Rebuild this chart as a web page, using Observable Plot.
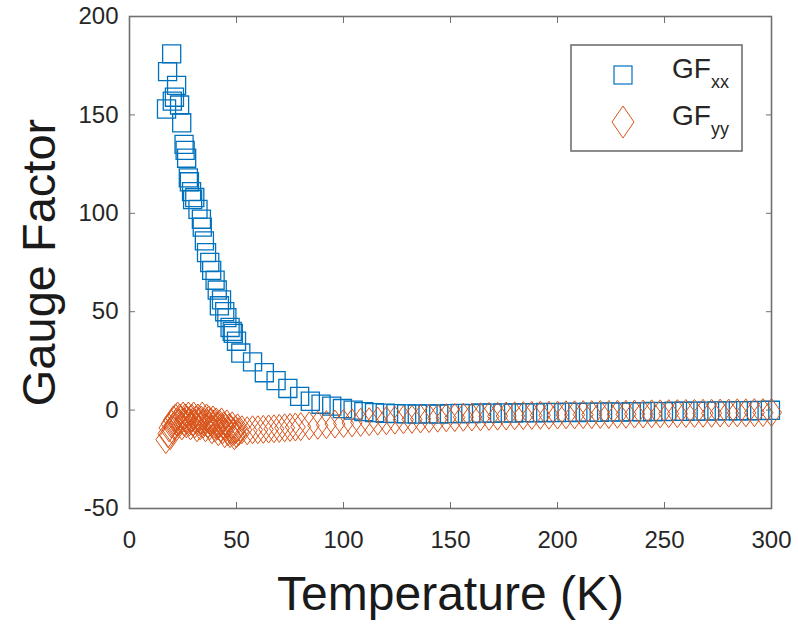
<!DOCTYPE html>
<html><head><meta charset="utf-8">
<script src="https://cdn.jsdelivr.net/npm/d3@7"></script>
<script src="https://cdn.jsdelivr.net/npm/@observablehq/plot@0.6"></script>
<style>
body{margin:0;background:#fff;}
#wrap{position:relative;width:798px;height:624px;font-family:"Liberation Sans",Arial,sans-serif;}
#legend{position:absolute;left:0;top:0;}
</style>
</head><body><div id="wrap"></div>
<script>
// ---- data ----
const xTicks = [0, 50, 100, 150, 200, 250, 300];
const yTicks = [-50, 0, 50, 100, 150, 200];
const xTitle = "Temperature (K)";
const yTitle = "Gauge Factor";
const seriesNames = ["GF", "GF"];
const seriesSubs = ["xx", "yy"];
const seriesColors = ["#0072BD", "#D95319"];

// GFxx (squares)
const xxT = [17.3, 17.8, 19.7, 20.0, 21.0, 22.0, 23.4, 24.4, 25.5, 26.0, 26.7, 27.5, 28.0, 29.0, 29.5, 30.5, 32.0, 33.6, 34.0, 35.0, 36.0, 37.5, 38.4, 40.0, 41.0, 42.0, 43.0, 44.5, 45.5, 47.0, 48.0, 48.5, 50.0,
  52, 57.5, 63, 68.5, 74, 79.5, 84.5, 89.5, 94.5, 99.5, 104.5, 109.5, 114.5, 119.5, 124.5, 129.5, 134.5, 139.5, 144.5, 149.5, 154.5, 159.5, 164.5, 169.5, 174.5, 179.5, 184.5, 189.5, 194.5, 199.5, 204.5, 209.5, 214.5, 219.5, 224.5, 229.5, 234.5, 239.5, 244.5, 249.5, 254.5, 259.5, 264.5, 269.5, 274.5, 279.5, 284.5, 289.5, 294.5, 299.5];
const xxV = [153, 172, 181, 157, 159, 165, 155, 146, 135, 132, 128, 118, 116, 111, 107, 108, 102, 97, 93, 86, 80, 75, 71, 66, 61, 53, 56, 50, 47, 42, 40, 39, 35,
  29, 24.5, 19, 15, 11, 7, 4.5, 3, 2, 0.8, 0, -0.8, -1.3, -1.6, -1.8, -1.9, -2, -1.9, -2, -1.8, -1.7, -1.8, -1.5, -1.6, -1.4, -1.5, -1.3, -1.4, -1.2, -1.3, -1.1, -1.2, -1.0, -1.1, -0.9, -1.0, -0.8, -0.9, -0.7, -0.8, -0.6, -0.6, -0.5, -0.5, -0.4, -0.4, -0.3, -0.3, -0.2, -0.1];

// GFyy (diamonds)
const yyT = [17, 18, 18.5, 19, 19.5, 20, 20.5, 21, 21.5, 22, 22.5, 23, 23.5, 24, 24.5, 25, 25.5, 26, 26.5, 27, 27.5, 28, 28.5, 29, 29.5, 30, 30.5, 31, 31.5, 32, 32.5, 33, 33.5, 34, 34.5, 35, 35.5, 36, 36.5, 37, 37.5, 38, 38.5, 39, 39.5, 40, 40.5, 41, 41.5, 42, 42.5, 43, 43.5, 44, 44.5, 45, 45.5, 46, 46.5, 47, 47.5, 48, 48.5, 49, 49.5, 50, 50.5, 51,
  52.5, 55, 57.5, 60, 62.5, 65, 67.5, 70, 72.5, 75, 77.5, 80, 84, 88, 92, 96, 100, 104, 108, 112, 116, 120, 124, 128, 132, 136, 140, 144, 148, 152, 156, 160, 164, 168, 172, 176, 180, 184, 188, 192, 196, 200, 204, 208, 212, 216, 220, 224, 228, 232, 236, 240, 244, 248, 252, 256, 260, 264, 268, 272, 276, 280, 284, 288, 292, 296, 300];
const yyV = [-15, -12, -9, -13, -7, -10, -5, -8, -4, -6, -3, -7, -4, -5, -8, -3, -6, -4, -7, -5, -3, -6, -8, -4, -6, -3, -7, -5, -9, -4, -6, -8, -5, -3, -7, -6, -9, -4, -7, -5, -8, -6, -10, -5, -7, -9, -6, -8, -11, -7, -9, -6, -10, -8, -12, -9, -7, -11, -9, -12, -10, -8, -11, -13, -10, -12, -9, -11,
  -10, -10.5, -10, -10, -9.8, -9.6, -9.5, -9.3, -9, -8.8, -8.6, -8.4, -8, -7.7, -7.4, -7.1, -6.8, -6.5, -6.2, -5.9, -5.6, -5.4, -5.1, -4.9, -4.7, -4.5, -4.3, -4.1, -3.9, -3.8, -3.6, -3.5, -3.4, -3.2, -3.1, -3.0, -2.9, -2.8, -2.7, -2.6, -2.6, -2.5, -2.4, -2.4, -2.3, -2.3, -2.2, -2.2, -2.1, -2.1, -2.0, -2.0, -1.9, -1.9, -1.8, -1.8, -1.7, -1.7, -1.6, -1.6, -1.5, -1.5, -1.4, -1.4, -1.3, -1.3, -1.2];

// ---- build ----
const gfxx = xxT.map((t, i) => ({T: t, v: xxV[i]}));
const gfyy = yyT.map((t, i) => ({T: t, v: yyV[i]}));

// tall diamond symbol
const tallDiamond = {
  draw(context, size) {
    const r = Math.sqrt(size / Math.PI);
    const w = r * 1.0, h = r * 1.4;
    context.moveTo(0, -h);
    context.lineTo(w, 0);
    context.lineTo(0, h);
    context.lineTo(-w, 0);
    context.closePath();
  }
};

const textColor = "#262626";
const frameColor = "#707070";
const fmt = d => String(d);

const chart = Plot.plot({
  width: 798,
  height: 624,
  marginLeft: 129,
  marginRight: 27,
  marginTop: 16,
  marginBottom: 116,
  x: {domain: [0, 300]},
  y: {domain: [-50, 200]},
  style: {fontFamily: '"Liberation Sans", Arial, sans-serif', background: "white", color: textColor},
  marks: [
    Plot.dot(gfxx, {x: "T", y: "v", symbol: "square", r: 10.2, stroke: seriesColors[0], fill: "none", strokeWidth: 1.3}),
    Plot.dot(gfyy, {x: "T", y: "v", symbol: tallDiamond, r: 10, stroke: seriesColors[1], fill: "none", strokeWidth: 1}),
    Plot.frame({stroke: frameColor, strokeWidth: 1.6}),
    // inward ticks
    Plot.axisX({ticks: xTicks, anchor: "bottom", tickSize: 6, dy: -6, fill: "none", stroke: frameColor, label: null}),
    Plot.axisX({ticks: xTicks, anchor: "top", tickSize: 6, dy: 6, fill: "none", stroke: frameColor, label: null}),
    Plot.axisY({ticks: yTicks, anchor: "left", tickSize: 6, dx: 6, fill: "none", stroke: frameColor, label: null}),
    Plot.axisY({ticks: yTicks, anchor: "right", tickSize: 6, dx: -6, fill: "none", stroke: frameColor, label: null}),
    // tick labels
    Plot.axisX({ticks: xTicks, anchor: "bottom", tickSize: 0, tickPadding: 22, fontSize: 24, tickFormat: fmt, fill: textColor, label: null}),
    Plot.axisY({ticks: yTicks, anchor: "left", tickSize: 0, tickPadding: 11, fontSize: 24, tickFormat: fmt, fill: textColor, label: null}),
    // titles
    Plot.text([xTitle], {text: d => d, frameAnchor: "bottom", textAnchor: "middle", dy: 101, fontSize: 48, fill: "#1a1a1a"}),
    Plot.text([yTitle], {text: d => d, frameAnchor: "left", textAnchor: "middle", dx: -90, rotate: -90, fontSize: 47, fill: "#1a1a1a"})
  ]
});

const wrap = document.getElementById("wrap");
wrap.appendChild(chart);

// legend overlay
const lg = d3.select(wrap).append("svg").attr("id", "legend").attr("width", 798).attr("height", 624);
lg.append("rect").attr("x", 571).attr("y", 45).attr("width", 171).attr("height", 106)
  .attr("fill", "white").attr("stroke", frameColor).attr("stroke-width", 1.6);
const rows = [75, 122];
seriesNames.forEach((name, i) => {
  const cy = rows[i];
  if (i === 0) {
    lg.append("rect").attr("x", 623 - 9).attr("y", cy - 9).attr("width", 18).attr("height", 18)
      .attr("fill", "none").attr("stroke", seriesColors[i]).attr("stroke-width", 1.2);
  } else {
    lg.append("path").attr("d", `M623,${cy - 16}L634,${cy}L623,${cy + 16}L612,${cy}Z`)
      .attr("fill", "none").attr("stroke", seriesColors[i]).attr("stroke-width", 1);
  }
  const t = lg.append("text").attr("x", 672).attr("y", cy + 3)
    .attr("font-family", '"Liberation Sans", Arial, sans-serif').attr("font-size", 28).attr("fill", textColor);
  t.append("tspan").text(name);
  t.append("tspan").attr("font-size", 18).attr("dy", 10).text(seriesSubs[i]);
});
</script>
</body></html>
